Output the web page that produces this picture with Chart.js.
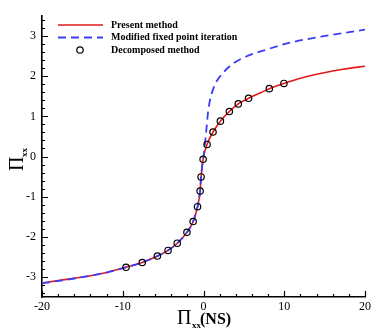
<!DOCTYPE html>
<html>
<head>
<meta charset="utf-8">
<script src="https://cdn.jsdelivr.net/npm/chart.js@4.4.1/dist/chart.umd.min.js"></script>
<style>
  html, body { margin: 0; padding: 0; background: #fff; }
  #wrap { width: 374px; height: 332px; }
</style>
</head>
<body>
<div id="wrap"><canvas id="chart"></canvas></div>
<script>
// series
const presentX = [-20, -17, -14, -12, -9.6, -7.6, -5.7, -4.4, -3.25, -2.05, -1.28, -0.74, -0.42, -0.3, -0.05, 0.44, 1.18, 2.09, 3.2, 4.31, 5.58, 7, 8.15, 9.96, 12, 14, 16, 18, 20];
const presentY = [-3.15, -3.06, -2.97, -2.89, -2.76, -2.64, -2.48, -2.34, -2.16, -1.89, -1.62, -1.25, -0.86, -0.51, -0.07, 0.30, 0.61, 0.88, 1.12, 1.31, 1.45, 1.58, 1.69, 1.82, 1.95, 2.05, 2.13, 2.195, 2.25];

const modifiedX = [-20, -17, -14, -12, -9.6, -7.6, -5.7, -4.4, -3.25, -2.05, -1.28, -0.74, -0.42, -0.3, -0.05, 0.05, 0.3, 0.44, 0.57, 0.8, 1.39, 2.41, 3.64, 5.29, 7.75, 10.6, 14.7, 20];
const modifiedY = [-3.16, -3.07, -2.97, -2.89, -2.76, -2.64, -2.48, -2.34, -2.16, -1.89, -1.62, -1.25, -0.86, -0.51, -0.07, 0.07, 0.55, 0.85, 1.12, 1.40, 1.78, 2.08, 2.31, 2.49, 2.66, 2.83, 2.99, 3.16];

const decompX = [-9.59, -7.59, -5.71, -4.39, -3.25, -2.05, -1.28, -0.74, -0.42, -0.3, -0.05, 0.44, 1.18, 2.09, 3.2, 4.31, 5.58, 8.15, 9.96];
const decompY = [-2.76, -2.64, -2.48, -2.34, -2.16, -1.89, -1.62, -1.25, -0.86, -0.51, -0.07, 0.30, 0.61, 0.88, 1.12, 1.31, 1.45, 1.69, 1.82];

const xTicks = [-20, -10, 0, 10, 20];
const yTicks = [-3, -2, -1, 0, 1, 2, 3];

const RED = "#e31a1a";
const BLUE = "#3c3cf5";
const SERIF = "'Liberation Serif', 'Times New Roman', serif";

const pts = (xs, ys) => xs.map((x, i) => ({ x: x, y: ys[i] }));

// inward major/minor ticks on both axes
const tickPlugin = {
  id: "inTicks",
  afterDraw(chart) {
    const ctx = chart.ctx;
    const xs = chart.scales.x, ys = chart.scales.y;
    const a = chart.chartArea;
    ctx.save();
    ctx.strokeStyle = "#000";
    ctx.lineWidth = 1.2;
    ctx.beginPath();
    for (let i = -10; i <= 10; i++) {
      const v = i * 2;
      const px = Math.round(xs.getPixelForValue(v)) + 0.5;
      const len = v % 10 === 0 ? 6 : 3;
      ctx.moveTo(px, a.bottom);
      ctx.lineTo(px, a.bottom - len);
    }
    for (let i = -17; i <= 17; i++) {
      const v = i / 5;
      const py = Math.round(ys.getPixelForValue(v)) + 0.5;
      const len = i % 5 === 0 ? 6 : 3;
      ctx.moveTo(a.left, py);
      ctx.lineTo(a.left + len, py);
    }
    ctx.stroke();
    ctx.restore();
  },
};

// legend in the top left corner + axis titles with subscripts
const labelPlugin = {
  id: "labels",
  afterDraw(chart) {
    const ctx = chart.ctx;
    const ds = chart.data.datasets;
    ctx.save();
    const rows = [25, 37.5, 50];
    ctx.font = "bold 10px " + SERIF;
    ctx.textBaseline = "middle";
    ctx.fillStyle = "#000";
    // red line
    ctx.strokeStyle = RED;
    ctx.lineWidth = 1.6;
    ctx.beginPath(); ctx.moveTo(58, rows[0]); ctx.lineTo(103, rows[0]); ctx.stroke();
    // blue dashed
    ctx.strokeStyle = BLUE;
    ctx.lineWidth = 1.8;
    ctx.setLineDash([8, 5]);
    ctx.beginPath(); ctx.moveTo(58, rows[1]); ctx.lineTo(103, rows[1]); ctx.stroke();
    ctx.setLineDash([]);
    // circle
    ctx.strokeStyle = "#000";
    ctx.lineWidth = 1.2;
    ctx.beginPath(); ctx.arc(80, rows[2], 3.2, 0, Math.PI * 2); ctx.stroke();
    ctx.fillText(ds[0].label, 111, rows[0]);
    ctx.fillText(ds[1].label, 111, rows[1]);
    ctx.fillText(ds[2].label, 111, rows[2]);

    // x title
    ctx.textBaseline = "alphabetic";
    ctx.font = "20px " + SERIF;
    ctx.fillText("\u03A0", 177, 324);
    ctx.font = "bold 9px " + SERIF;
    ctx.fillText("xx", 192, 328);
    ctx.font = "bold 16px " + SERIF;
    ctx.fillText("(NS)", 200, 324);

    // y title, rotated
    ctx.translate(0, 160);
    ctx.rotate(-Math.PI / 2);
    ctx.font = "20px " + SERIF;
    ctx.fillText("\u03A0", -11, 23);
    ctx.font = "bold 9px " + SERIF;
    ctx.fillText("xx", 3, 27);
    ctx.restore();
  },
};

new Chart(document.getElementById("chart"), {
  type: "scatter",
  data: {
    datasets: [
      {
        label: "Present method",
        data: pts(presentX, presentY),
        showLine: true,
        borderColor: RED,
        borderWidth: 1.6,
        pointRadius: 0,
        cubicInterpolationMode: "monotone",
        order: 3,
      },
      {
        label: "Modified fixed point iteration",
        data: pts(modifiedX, modifiedY),
        showLine: true,
        borderColor: BLUE,
        borderWidth: 1.8,
        borderDash: [8, 5],
        pointRadius: 0,
        cubicInterpolationMode: "monotone",
        order: 2,
      },
      {
        label: "Decomposed method",
        data: pts(decompX, decompY),
        showLine: false,
        pointRadius: 3.2,
        pointBorderWidth: 1.2,
        pointBorderColor: "#000",
        pointBackgroundColor: "rgba(0,0,0,0)",
        order: 1,
      },
    ],
  },
  options: {
    responsive: true,
    maintainAspectRatio: false,
    animation: false,
    layout: { padding: { top: 16, right: 8, left: 0, bottom: 0 } },
    plugins: {
      legend: { display: false },
      tooltip: { enabled: false },
    },
    scales: {
      x: {
        type: "linear",
        min: -20,
        max: 20,
        afterFit: (s) => { s.height = 35; },
        afterBuildTicks: (s) => { s.ticks = xTicks.map((v) => ({ value: v })); },
        grid: { display: false, drawTicks: false },
        border: { display: true, color: "#000", width: 1.6 },
        ticks: {
          color: "#000",
          padding: 3,
          maxRotation: 0,
          font: { family: SERIF, size: 12 },
        },
      },
      y: {
        type: "linear",
        min: -3.5,
        max: 3.5,
        afterFit: (s) => { s.width = 42; },
        afterBuildTicks: (s) => { s.ticks = yTicks.map((v) => ({ value: v })); },
        grid: { display: false, drawTicks: false },
        border: { display: true, color: "#000", width: 1.6 },
        ticks: {
          color: "#000",
          padding: 6,
          font: { family: SERIF, size: 12 },
        },
      },
    },
  },
  plugins: [tickPlugin, labelPlugin],
});
</script>
</body>
</html>
